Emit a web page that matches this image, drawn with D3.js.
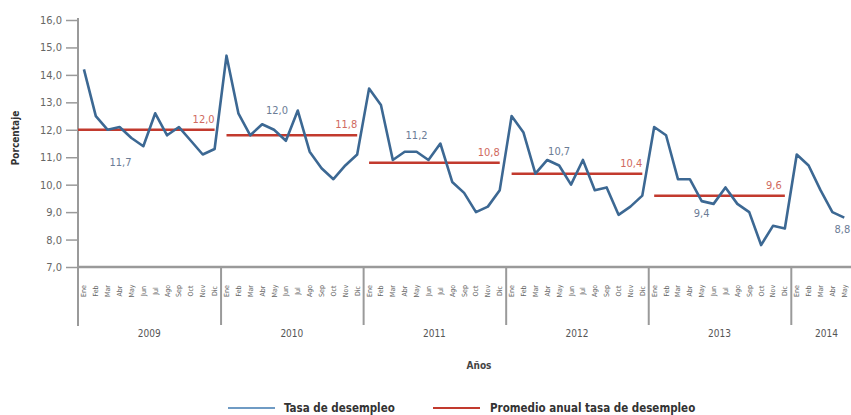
<!DOCTYPE html>
<html>
<head>
<meta charset="utf-8">
<script src="https://d3js.org/d3.v7.min.js"></script>
<style>
  body { margin: 0; background: #fff; }
  svg text { font-family: "Liberation Sans Narrow", "DejaVu Sans Condensed", "Roboto", sans-serif; }
</style>
</head>
<body>
<svg id="chart" width="851" height="415"></svg>
<script>
// monthly unemployment rate, Jan 2009 .. May 2014
var years = ["2009", "2010", "2011", "2012", "2013", "2014"];
var monthNames = ["Ene", "Feb", "Mar", "Abr", "May", "Jun", "Jul", "Ago", "Sep", "Oct", "Nov", "Dic"];
var tasa2009 = [14.2, 12.5, 12.0, 12.1, 11.7, 11.4, 12.6, 11.8, 12.1, 11.6, 11.1, 11.3];
var tasa2010 = [14.7, 12.6, 11.8, 12.2, 12.0, 11.6, 12.7, 11.2, 10.6, 10.2, 10.7, 11.1];
var tasa2011 = [13.5, 12.9, 10.9, 11.2, 11.2, 10.9, 11.5, 10.1, 9.7, 9.0, 9.2, 9.8];
var tasa2012 = [12.5, 11.9, 10.4, 10.9, 10.7, 10.0, 10.9, 9.8, 9.9, 8.9, 9.2, 9.6];
var tasa2013 = [12.1, 11.8, 10.2, 10.2, 9.4, 9.3, 9.9, 9.3, 9.0, 7.8, 8.5, 8.4];
var tasa2014 = [11.1, 10.7, 9.8, 9.0, 8.8];
var promedioAnual = [12.0, 11.8, 10.8, 10.4, 9.6];
var yTicks = [7, 8, 9, 10, 11, 12, 13, 14, 15, 16];

var series = [tasa2009, tasa2010, tasa2011, tasa2012, tasa2013, tasa2014];
var data = [];
series.forEach(function(arr, yi) {
  arr.forEach(function(v, m) { data.push({i: yi * 12 + m, year: yi, month: m, v: v}); });
});

var svg = d3.select("#chart");
var blue = "#3c6893", red = "#c23a2e", axisGray = "#9a9a9a";

var x = d3.scaleLinear().domain([0, 72]).range([78, 78 + 72 * 11.88]);
var y = d3.scaleLinear().domain([7, 16]).range([267, 20]);
var mx = function(i) { return x(i + 0.5); };
var fmt = function(d) { return d3.format(".1f")(d).replace(".", ","); };

// y axis
var yAxis = svg.append("g").attr("transform", "translate(78,0)")
  .call(d3.axisLeft(y).tickValues(yTicks).tickSize(12).tickPadding(4).tickFormat(fmt));
yAxis.select(".domain").remove();
yAxis.selectAll("line").attr("stroke", axisGray).attr("stroke-width", 1.5);
yAxis.selectAll("text").attr("fill", "#666").style("font-size", "11px");
svg.append("line").attr("x1", 78).attr("x2", 78).attr("y1", 18).attr("y2", 326)
  .attr("stroke", axisGray).attr("stroke-width", 2);

// x axis baseline
svg.append("line").attr("x1", 78).attr("x2", 851).attr("y1", y(7)).attr("y2", y(7))
  .attr("stroke", axisGray).attr("stroke-width", 2.5);

// year separators
var sepAxis = svg.append("g").attr("transform", "translate(0," + y(7) + ")")
  .call(d3.axisBottom(x).tickValues([12, 24, 36, 48, 60]).tickSize(58).tickFormat(""));
sepAxis.select(".domain").remove();
sepAxis.selectAll("line").attr("stroke", axisGray).attr("stroke-width", 2);

// month labels
svg.append("g").selectAll("text").data(data).enter().append("text")
  .attr("transform", function(d) { return "translate(" + (mx(d.i) + 2.5) + ",291) rotate(-90)"; })
  .attr("text-anchor", "middle")
  .attr("fill", "#666")
  .style("font-size", "7px")
  .text(function(d) { return monthNames[d.month]; });

// year labels
svg.append("g").selectAll("text").data(years).enter().append("text")
  .attr("x", function(d, i) { return i < 5 ? x(i * 12 + 6) : x(63); })
  .attr("y", 337)
  .attr("text-anchor", "middle")
  .attr("fill", "#555")
  .style("font-size", "10px")
  .text(function(d) { return d; });

// axis titles
svg.append("text").attr("x", 479).attr("y", 369).attr("text-anchor", "middle")
  .attr("fill", "#444").style("font-size", "10px").style("font-weight", "bold").text("Años");
svg.append("text").attr("transform", "translate(19,138) rotate(-90)").attr("text-anchor", "middle")
  .attr("fill", "#333").style("font-size", "10px").style("font-weight", "bold").text("Porcentaje");

// annual average lines
svg.append("g").selectAll("line").data(promedioAnual).enter().append("line")
  .attr("x1", function(d, i) { return i === 0 ? 78 : mx(i * 12); })
  .attr("x2", function(d, i) { return mx(i * 12 + 11); })
  .attr("y1", function(d) { return y(d); })
  .attr("y2", function(d) { return y(d); })
  .attr("stroke", red).attr("stroke-width", 2.5);

svg.append("g").selectAll("text").data(promedioAnual).enter().append("text")
  .attr("x", function(d, i) { return mx(i * 12 + 11) - 11; })
  .attr("y", function(d) { return y(d) - 7; })
  .attr("text-anchor", "middle")
  .attr("fill", "#d06a60")
  .style("font-size", "11px")
  .text(fmt);

// unemployment line
svg.append("path").datum(data)
  .attr("fill", "none").attr("stroke", blue).attr("stroke-width", 2.6).attr("stroke-linejoin", "round")
  .attr("d", d3.line().x(function(d) { return mx(d.i); }).y(function(d) { return y(d.v); }));

// May values
var mayLabelOffset = [[-11, 28], [3, -16], [0, -13], [0, -10], [0, 16], [6, 15]];
var mayData = data.filter(function(d) { return d.month === 4; });
svg.append("g").selectAll("text").data(mayData).enter().append("text")
  .attr("x", function(d) { return mx(d.i) + mayLabelOffset[d.year][0]; })
  .attr("y", function(d) { return y(d.v) + mayLabelOffset[d.year][1]; })
  .attr("text-anchor", function(d) { return d.year === 5 ? "end" : "middle"; })
  .attr("fill", "#6b7c96")
  .style("font-size", "11px")
  .text(function(d) { return fmt(d.v); });

// legend
var legend = svg.append("g").attr("transform", "translate(0,408)");
legend.append("line").attr("x1", 228).attr("x2", 275).attr("stroke", "#6f9bc4").attr("stroke-width", 2);
legend.append("text").attr("x", 284).attr("y", 4).attr("fill", "#333").style("font-size", "11.5px")
  .style("font-weight", "bold").text("Tasa de desempleo");
legend.append("line").attr("x1", 433).attr("x2", 480).attr("stroke", red).attr("stroke-width", 2);
legend.append("text").attr("x", 490).attr("y", 4).attr("fill", "#333").style("font-size", "11.5px")
  .style("font-weight", "bold").text("Promedio anual tasa de desempleo");
</script>
</body>
</html>
